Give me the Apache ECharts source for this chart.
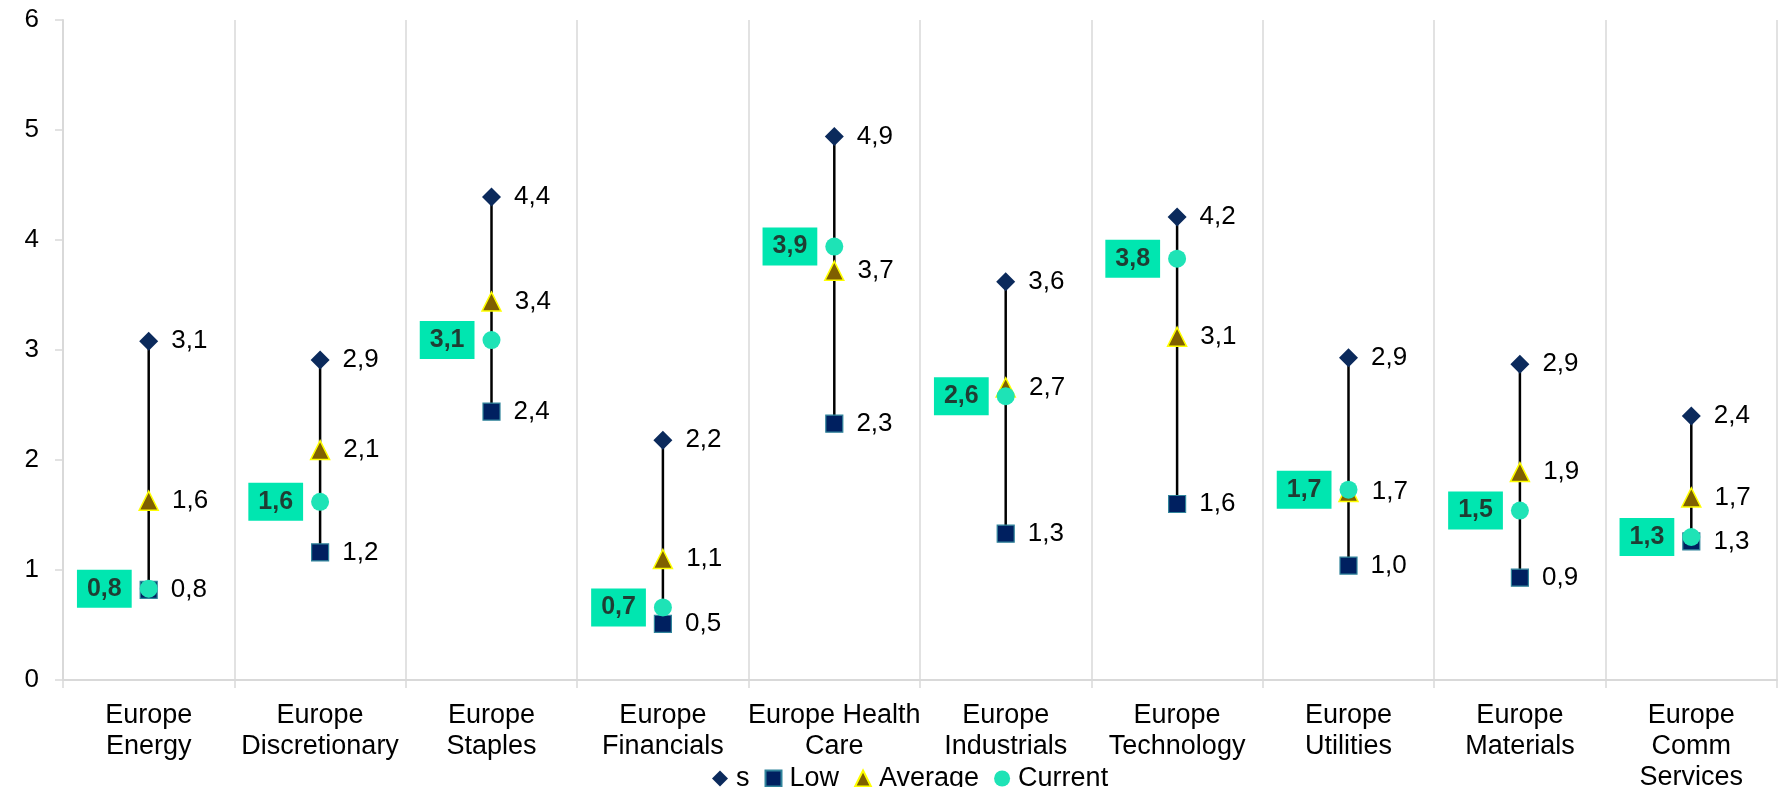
<!DOCTYPE html>
<html>
<head>
<meta charset="utf-8">
<script src="https://cdn.jsdelivr.net/npm/echarts@6/dist/echarts.min.js"></script>
<style>
  html, body { margin: 0; padding: 0; background: #fff; }
  #chart { width: 1783px; height: 787px; }
</style>
</head>
<body>
<div id="chart"></div>
<script>
// categories and values
const categories = [
  "Europe\nEnergy", "Europe\nDiscretionary", "Europe\nStaples", "Europe\nFinancials",
  "Europe Health\nCare", "Europe\nIndustrials", "Europe\nTechnology", "Europe\nUtilities",
  "Europe\nMaterials", "Europe\nComm\nServices"
];
const highValues = [3.08, 2.91, 4.39, 2.18, 4.94, 3.62, 4.21, 2.93, 2.87, 2.4];
const lowValues = [0.82, 1.16, 2.44, 0.51, 2.33, 1.33, 1.6, 1.04, 0.93, 1.26];
const avgValues = [1.63, 2.09, 3.44, 1.1, 3.72, 2.66, 3.12, 1.71, 1.89, 1.66];
const currentValues = [0.83, 1.62, 3.09, 0.66, 3.94, 2.58, 3.83, 1.73, 1.54, 1.3];
const yTicks = [0, 6, 1]; // min, max, interval

const font = "'Liberation Sans', Arial, sans-serif";
const fmt = (v) => v.toFixed(1).replace(".", ",");

let myChart = echarts.init(document.getElementById("chart"));

let rightLabel = {
  show: true,
  position: "right",
  distance: 13,
  fontFamily: font,
  fontSize: 26,
  color: "#000",
  formatter: (p) => fmt(p.value[1]),
};

let option = {
  backgroundColor: "#fff",
  animation: false,
  grid: { left: 63, right: 6, top: 20, bottom: 107, outerBoundsMode: "none" },
  legend: {
    left: 712,
    top: 765,
    padding: 0,
    itemWidth: 16,
    itemHeight: 16,
    itemGap: 15,
    textStyle: { fontFamily: font, fontSize: 27, color: "#000", padding: [0, 0, 0, 3] },
    data: [
      { name: "s", icon: "diamond" },
      { name: "Low", icon: "rect" },
      { name: "Average", icon: "triangle" },
      { name: "Current", icon: "circle" },
    ],
  },
  xAxis: {
    type: "category",
    data: categories,
    boundaryGap: true,
    axisLine: { lineStyle: { color: "#d9d9d9", width: 2 } },
    axisTick: { show: true, length: 8, interval: 0, lineStyle: { color: "#d9d9d9", width: 1.5 } },
    splitLine: { show: true, interval: 0, lineStyle: { color: "#d9d9d9", width: 1.5 } },
    axisLabel: {
      interval: 0,
      margin: 20,
      fontFamily: font,
      fontSize: 27,
      lineHeight: 31,
      color: "#000",
    },
  },
  yAxis: {
    type: "value",
    min: yTicks[0],
    max: yTicks[1],
    interval: yTicks[2],
    axisLine: { show: true, lineStyle: { color: "#d9d9d9", width: 2 } },
    axisTick: { show: true, length: 8, lineStyle: { color: "#d9d9d9", width: 1.5 } },
    splitLine: { show: false },
    axisLabel: { margin: 24, fontFamily: font, fontSize: 26, color: "#000" },
  },
  series: [
    {
      // vertical range line low -> high
      type: "custom",
      name: "range",
      silent: true,
      z: 1,
      data: categories.map((c, i) => [i, lowValues[i], highValues[i]]),
      encode: { x: 0, y: [1, 2] },
      renderItem: function (params, api) {
        let p1 = api.coord([api.value(0), api.value(1)]);
        let p2 = api.coord([api.value(0), api.value(2)]);
        return {
          type: "line",
          shape: { x1: p1[0], y1: p1[1], x2: p2[0], y2: p2[1] },
          style: { stroke: "#000", lineWidth: 2.5 },
        };
      },
    },
    {
      type: "scatter",
      name: "s",
      z: 3,
      symbol: "diamond",
      symbolSize: 19,
      itemStyle: { color: "#0b2a5c", opacity: 1 },
      label: rightLabel,
      data: highValues.map((v, i) => [i, v]),
    },
    {
      type: "scatter",
      name: "Low",
      z: 3,
      symbol: "rect",
      symbolSize: 17,
      itemStyle: { color: "#002060", borderColor: "#31849b", borderWidth: 1.2, opacity: 1 },
      label: rightLabel,
      data: lowValues.map((v, i) => [i, v]),
    },
    {
      type: "scatter",
      name: "Average",
      z: 4,
      symbol: "triangle",
      symbolSize: 19,
      itemStyle: { color: "#7f6000", borderColor: "#ffff00", borderWidth: 1.5, opacity: 1 },
      label: rightLabel,
      data: avgValues.map((v, i) => [i, v]),
    },
    {
      type: "scatter",
      name: "Current",
      z: 5,
      symbol: "circle",
      symbolSize: 18,
      itemStyle: { color: "#1ee3b6", opacity: 1 },
      label: {
        show: true,
        position: "left",
        distance: 8,
        fontFamily: font,
        fontSize: 25,
        fontWeight: "bold",
        color: "#1f3d33",
        backgroundColor: "#00e6b0",
        padding: [7, 10, 6, 10],
        formatter: (p) => fmt(p.value[1]),
      },
      data: currentValues.map((v, i) => [i, v]),
    },
  ],
};

myChart.setOption(option);
</script>
</body>
</html>
